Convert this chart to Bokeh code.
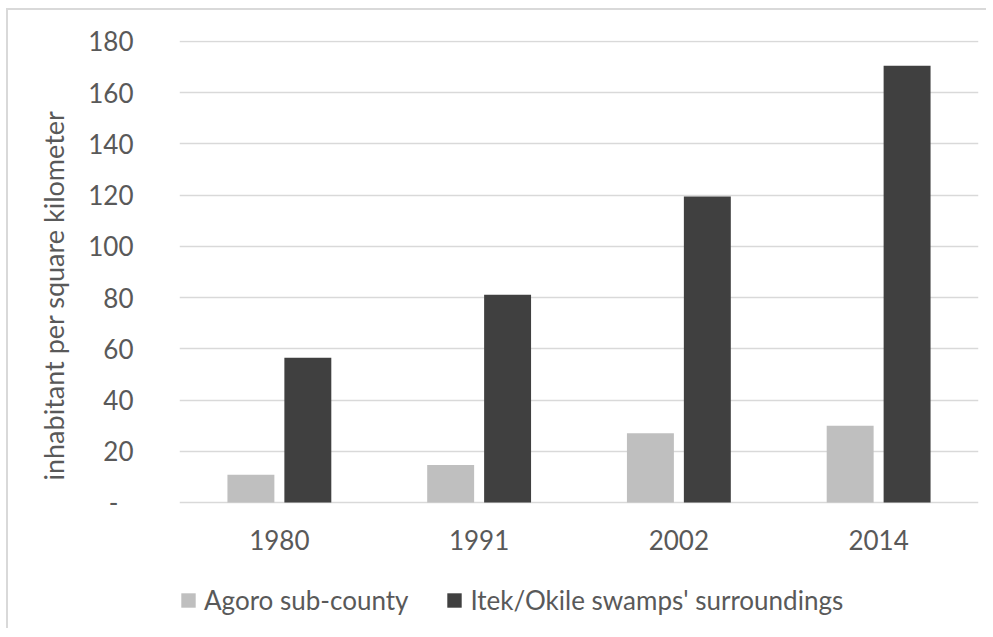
from bokeh.plotting import figure
from bokeh.models import FactorRange, Range1d, FixedTicker, Legend, LegendItem, ColumnDataSource, Title
from bokeh.transform import dodge
from bokeh.embed import file_html
from bokeh.resources import INLINE

years = ["1980", "1991", "2002", "2014"]
agoro = [10.8, 14.6, 27.0, 30.0]
itek = [56.5, 81.1, 119.5, 170.5]
y_ticks = [0, 20, 40, 60, 80, 100, 120, 140, 160, 180]
series_names = ["Agoro sub-county", "Itek/Okile swamps' surroundings"]
y_title = "inhabitant per square kilometer"

FONT = "Lato"
TXT = "#595959"
GRID = "#D9D9D9"

src = ColumnDataSource(dict(year=years, agoro=agoro, itek=itek))

# frame extends below the value axis so that the legend can sit inside it
p = figure(
    width=980, height=620,
    x_range=FactorRange(*years), y_range=Range1d(-49.98, 180.39),
    output_backend="svg", toolbar_location=None,
    min_border_left=171, min_border_right=10, min_border_top=30, min_border_bottom=0,
)
p.styles = {"border-top": "2px solid #D9D9D9", "border-left": "2px solid #D9D9D9",
            "margin-left": "6px", "margin-top": "8px"}
p.outline_line_color = None
p.background_fill_color = "white"
p.border_fill_color = "white"

r1 = p.vbar(x=dodge("year", -0.1425, range=p.x_range), top="agoro", width=0.235,
            source=src, fill_color="#BFBFBF", line_color=None)
r2 = p.vbar(x=dodge("year", 0.1425, range=p.x_range), top="itek", width=0.235,
            source=src, fill_color="#404040", line_color=None)

# y axis
p.yaxis.ticker = FixedTicker(ticks=y_ticks)
p.yaxis.major_label_overrides = {0: "-\u2007"}
p.yaxis.axis_line_color = None
p.yaxis.major_tick_line_color = None
p.yaxis.minor_tick_line_color = None
p.yaxis.major_label_standoff = 40
p.yaxis.major_label_text_font = FONT
p.yaxis.major_label_text_font_size = "26px"
p.yaxis.major_label_text_color = TXT

p.add_layout(Title(text=y_title, align="left", offset=150, standoff=31,
                   text_font=FONT, text_font_size="27px", text_font_style="normal",
                   text_color=TXT), "left")

# x axis drawn at value 0
p.xaxis.fixed_location = 0
p.xaxis.axis_line_color = None
p.xaxis.major_tick_line_color = None
p.xaxis.minor_tick_line_color = None
p.xaxis.major_label_standoff = 22
p.xaxis.major_label_text_font = FONT
p.xaxis.major_label_text_font_size = "26px"
p.xaxis.major_label_text_color = TXT

p.xgrid.grid_line_color = None
p.ygrid.grid_line_color = GRID
p.ygrid.grid_line_width = 1.5

legend = Legend(
    items=[LegendItem(label=series_names[0], renderers=[r1]),
           LegendItem(label=series_names[1], renderers=[r2])],
    orientation="horizontal", location=(0, 14),
    padding=0, margin=0, spacing=37, label_standoff=7,
    glyph_width=18, glyph_height=18,
    label_text_font=FONT, label_text_font_size="26px", label_text_color=TXT,
    border_line_color=None, background_fill_alpha=0,
)
p.add_layout(legend, "center")

open("out.html", "w").write(file_html(p, INLINE))
